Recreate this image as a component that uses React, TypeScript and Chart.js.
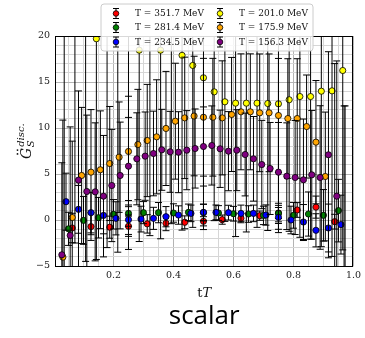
import React, { useEffect, useRef } from 'react';
import { Chart, registerables } from 'chart.js';
Chart.register(...registerables);

// ---- data ----
const seriesLabels = ['T = 351.7 MeV', 'T = 281.4 MeV', 'T = 234.5 MeV', 'T = 201.0 MeV', 'T = 175.9 MeV', 'T = 156.3 MeV'];
const seriesColors = ['#ff0000', '#008000', '#0000ff', '#ffff00', '#ffa500', '#800080'];

const redX = [0.0625, 0.125, 0.1875, 0.25, 0.3125, 0.375, 0.4375, 0.5, 0.5625, 0.625, 0.6875, 0.75, 0.8125, 0.875, 0.9375];
const redY = [-0.87, -0.72, -0.78, -0.68, -0.42, -0.36, -0.25, -0.14, 0.04, 0.2, 0.47, 0.76, 1.09, 1.4, -0.18];
const redErr = [1.6, 1.5, 1.2, 1.1, 1.0, 0.8, 0.7, 0.5, 0.5, 0.5, 0.5, 0.6, 0.8, 1.2, 0.8];

const greenX = [0.05, 0.1, 0.15, 0.2, 0.25, 0.3, 0.35, 0.4, 0.45, 0.5, 0.55, 0.6, 0.65, 0.7, 0.75, 0.8, 0.85, 0.9, 0.95];
const greenY = [-0.96, -0.04, 0.25, 0.62, 0.72, 0.8, 0.8, 0.76, 0.83, 0.8, 0.76, 0.68, 0.65, 0.5, 0.72, 0.51, 0.65, 0.51, 1.02];
const greenErr = [1.8, 2.6, 2.2, 1.6, 1.4, 1.2, 1.1, 1.0, 0.9, 0.9, 0.8, 0.8, 0.9, 1.0, 1.1, 1.4, 2.4, 2.8, 3.4];

const blueX = [0.0417, 0.0833, 0.125, 0.1667, 0.2083, 0.25, 0.2917, 0.3333, 0.375, 0.4167, 0.4583, 0.5, 0.5417, 0.5833, 0.625, 0.6667, 0.7083, 0.75, 0.7917, 0.8333, 0.875, 0.9167, 0.9583];
const blueY = [1.99, 1.16, 0.8, 0.5, 0.18, 0.03, 0.1, 0.18, 0.36, 0.54, 0.72, 0.83, 0.83, 0.8, 0.72, 0.72, 0.54, 0.29, 0.0, -0.22, -1.12, -0.87, -0.5];
const blueErr = [3.1, 2.6, 2.2, 2.0, 1.8, 1.6, 1.4, 1.2, 1.1, 1.0, 0.9, 0.9, 0.8, 0.8, 0.9, 0.9, 1.1, 1.3, 1.5, 1.9, 1.8, 2.6, 3.2];

const yellowX = [0.0357, 0.0714, 0.1071, 0.1429, 0.1786, 0.2143, 0.25, 0.2857, 0.3214, 0.3571, 0.3929, 0.4286, 0.4643, 0.5, 0.5357, 0.5714, 0.6071, 0.6429, 0.6786, 0.7143, 0.75, 0.7857, 0.8214, 0.8571, 0.8929, 0.9286, 0.9643];
const yellowY = [25, 23, 22, 19.7, 21, 20.5, 20.8, 18.46, 20.3, 18.46, 20.6, 17.9, 16.8, 15.46, 13.93, 12.85, 12.7, 12.7, 12.7, 12.66, 12.63, 13.07, 13.42, 13.42, 14.0, 14.04, 16.25];
const yellowErr = [32, 25.5, 26.5, 24, 24, 24, 24, 20.8, 22, 20.5, 21, 19, 17.6, 16.5, 14, 13, 14.5, 14, 13.5, 13.8, 14, 14.3, 15.3, 15.5, 16.9, 18, 19.5];

const orangeX = [0.03125, 0.0625, 0.09375, 0.125, 0.15625, 0.1875, 0.21875, 0.25, 0.28125, 0.3125, 0.34375, 0.375, 0.40625, 0.4375, 0.46875, 0.5, 0.53125, 0.5625, 0.59375, 0.625, 0.65625, 0.6875, 0.71875, 0.75, 0.78125, 0.8125, 0.84375, 0.875, 0.90625, 0.9375, 0.96875];
const orangeY = [-4.04, 0.27, 4.84, 5.2, 5.46, 6.14, 6.83, 7.45, 8.2, 8.64, 9.04, 9.95, 10.74, 11.1, 11.3, 11.17, 11.17, 11.1, 11.47, 11.76, 11.76, 11.65, 11.65, 11.36, 11.03, 11.03, 10.16, 8.46, 4.73, -6.0, -8.0];
const orangeErr = [14.9, 8.3, 7.4, 6.8, 6.4, 6.2, 6.0, 6.0, 6.0, 6.1, 6.2, 6.2, 6.3, 6.6, 6.5, 6.4, 6.4, 6.2, 6.2, 6.3, 6.3, 6.4, 6.4, 6.2, 6.5, 6.5, 5.6, 6.7, 7.0, 23.0, 20.4];

const purpleX = [0.0278, 0.0556, 0.0833, 0.1111, 0.1389, 0.1667, 0.1944, 0.2222, 0.25, 0.2778, 0.3056, 0.3333, 0.3611, 0.3889, 0.4167, 0.4444, 0.4722, 0.5, 0.5278, 0.5556, 0.5833, 0.6111, 0.6389, 0.6667, 0.6944, 0.7222, 0.75, 0.7778, 0.8056, 0.8333, 0.8611, 0.8889, 0.9167, 0.9444, 0.9722];
const purpleY = [-3.78, -1.68, 4.33, 3.1, 3.06, 2.59, 3.75, 4.84, 5.85, 6.65, 6.94, 7.23, 7.63, 7.41, 7.37, 7.59, 7.77, 7.99, 8.1, 7.74, 7.48, 7.59, 7.12, 6.65, 6.03, 5.6, 5.2, 4.76, 4.62, 4.37, 4.91, 4.62, 7.09, 2.59, -7.0];
const purpleErr = [10.0, 11.8, 9.7, 8.3, 7.5, 6.6, 6.1, 5.8, 5.3, 5.0, 4.8, 4.6, 4.4, 4.4, 4.4, 4.3, 4.3, 4.3, 4.3, 4.2, 4.3, 4.4, 4.5, 4.6, 4.8, 5.0, 5.4, 5.8, 6.2, 6.6, 7.0, 7.8, 11.2, 14.7, 19.4];

const xTickValues = [0.05, 0.1, 0.15, 0.2, 0.25, 0.3, 0.35, 0.4, 0.45, 0.5, 0.55, 0.6, 0.65, 0.7, 0.75, 0.8, 0.85, 0.9, 0.95, 1.0];
const xMajorValues = [0.2, 0.4, 0.6, 0.8, 1.0];
const xMajorLabels = ['0.2', '0.4', '0.6', '0.8', '1.0'];
const yTickValues = [-5, -4, -3, -2, -1, 0, 1, 2, 3, 4, 5, 6, 7, 8, 9, 10, 11, 12, 13, 14, 15, 16, 17, 18, 19, 20];
const yMajorValues = [-5, 0, 5, 10, 15, 20];
const yMajorLabels = ['\u22125', '0', '5', '10', '15', '20'];

const xTitleUpright = 't';
const xTitleItalic = 'T';
const yTitleMain = 'G';
const yTitleSup = 'disc.';
const yTitleSub = 'S';
const captionText = 'scalar';

const X_MIN = 0.005, X_MAX = 1.0, Y_MIN = -5, Y_MAX = 20;

const SERIF = '"DejaVu Serif"';

function findIdx(arr: number[], v: number) {
  for (let i = 0; i < arr.length; i++) if (Math.abs(arr[i] - v) < 1e-6) return i;
  return -1;
}

const errorBarPlugin = {
  id: 'errbars',
  beforeDatasetDraw(chart: any, args: any) {
    const ds = chart.data.datasets[args.index];
    const errs: number[] = ds.errors;
    if (!errs) return;
    const { ctx, chartArea, scales } = chart;
    ctx.save();
    ctx.beginPath();
    ctx.rect(chartArea.left, chartArea.top, chartArea.right - chartArea.left, chartArea.bottom - chartArea.top);
    ctx.clip();
    ctx.strokeStyle = '#000';
    ctx.lineWidth = 1;
    ds.data.forEach((p: any, i: number) => {
      const x = scales.x.getPixelForValue(p.x);
      const y1 = scales.y.getPixelForValue(p.y + errs[i]);
      const y2 = scales.y.getPixelForValue(p.y - errs[i]);
      ctx.beginPath();
      ctx.moveTo(x, y1); ctx.lineTo(x, y2);
      ctx.moveTo(x - 3.5, y1); ctx.lineTo(x + 3.5, y1);
      ctx.moveTo(x - 3.5, y2); ctx.lineTo(x + 3.5, y2);
      ctx.stroke();
    });
    ctx.restore();
  },
};

const decorPlugin = {
  id: 'decor',
  afterDatasetsDraw(chart: any) {
    const { ctx, chartArea } = chart;
    ctx.save();
    ctx.strokeStyle = '#000';
    ctx.lineWidth = 1;
    ctx.strokeRect(Math.round(chartArea.left) + 0.5, Math.round(chartArea.top) + 0.5,
      Math.round(chartArea.right - chartArea.left) - 1, Math.round(chartArea.bottom - chartArea.top));
    ctx.restore();
  },
  afterDraw(chart: any) {
    const { ctx, chartArea } = chart;
    ctx.save();
    // legend
    const bx = 101, by = 4, bw = 212, bh = 47, r = 3;
    ctx.beginPath();
    ctx.moveTo(bx + r, by);
    ctx.arcTo(bx + bw, by, bx + bw, by + bh, r);
    ctx.arcTo(bx + bw, by + bh, bx, by + bh, r);
    ctx.arcTo(bx, by + bh, bx, by, r);
    ctx.arcTo(bx, by, bx + bw, by, r);
    ctx.closePath();
    ctx.fillStyle = 'rgba(255,255,255,0.85)';
    ctx.fill();
    ctx.strokeStyle = '#cccccc';
    ctx.lineWidth = 1;
    ctx.stroke();
    const colX = [116, 220];
    const rowY = [13.5, 27.5, 42];
    ctx.font = '9px ' + SERIF;
    ctx.textBaseline = 'middle';
    ctx.textAlign = 'left';
    for (let k = 0; k < 6; k++) {
      const cx = colX[Math.floor(k / 3)];
      const cy = rowY[k % 3];
      ctx.strokeStyle = '#000';
      ctx.lineWidth = 1;
      ctx.beginPath();
      ctx.moveTo(cx, cy - 5); ctx.lineTo(cx, cy + 5);
      ctx.moveTo(cx - 3, cy - 5); ctx.lineTo(cx + 3, cy - 5);
      ctx.moveTo(cx - 3, cy + 5); ctx.lineTo(cx + 3, cy + 5);
      ctx.stroke();
      ctx.beginPath();
      ctx.arc(cx, cy, 2.8, 0, Math.PI * 2);
      ctx.fillStyle = seriesColors[k];
      ctx.fill();
      ctx.lineWidth = 0.8;
      ctx.stroke();
      ctx.fillStyle = '#111';
      ctx.fillText(seriesLabels[k], cx + 19, cy + 0.5);
    }
    // x title
    const midX = (chartArea.left + chartArea.right) / 2;
    ctx.textBaseline = 'alphabetic';
    ctx.font = '13px ' + SERIF;
    const w1 = ctx.measureText(xTitleUpright).width;
    ctx.font = 'italic 13px ' + SERIF;
    const w2 = ctx.measureText(xTitleItalic).width;
    const sx = midX - (w1 + w2) / 2;
    ctx.fillStyle = '#111';
    ctx.font = '13px ' + SERIF;
    ctx.fillText(xTitleUpright, sx, 297);
    ctx.font = 'italic 13px ' + SERIF;
    ctx.fillText(xTitleItalic, sx + w1, 297);
    // y title (rotated)
    ctx.save();
    ctx.translate(31, 159);
    ctx.rotate(-Math.PI / 2);
    ctx.font = 'italic 14px ' + SERIF;
    const gw = ctx.measureText(yTitleMain).width;
    ctx.fillText(yTitleMain, 0, 0);
    ctx.beginPath();
    ctx.arc(gw * 0.45, -13.5, 0.9, 0, Math.PI * 2);
    ctx.arc(gw * 0.8, -13.5, 0.9, 0, Math.PI * 2);
    ctx.fill();
    ctx.font = 'italic 10px ' + SERIF;
    ctx.fillText(yTitleSup, gw + 1, -7);
    ctx.fillText(yTitleSub, gw + 0.5, 2.5);
    ctx.restore();
    // caption
    ctx.font = '26px "Open Sans"';
    ctx.textAlign = 'center';
    ctx.fillStyle = '#000';
    ctx.fillText(captionText, midX, 324);
    ctx.restore();
  },
};

export default function App() {
  const ref = useRef<HTMLCanvasElement | null>(null);
  useEffect(() => {
    document.body.style.margin = '0';
    document.body.style.overflow = 'hidden';
    const canvas = ref.current!;
    const mk = (xs: number[], ys: number[], es: number[], k: number, order: number) => ({
      label: seriesLabels[k],
      data: xs.map((x, i) => ({ x, y: ys[i] })),
      errors: es,
      backgroundColor: seriesColors[k],
      borderColor: '#000',
      pointBackgroundColor: seriesColors[k],
      pointBorderColor: '#000',
      pointBorderWidth: 0.8,
      pointRadius: 3.1,
      showLine: false,
      order,
    });
    const majorGrid = '#b4b4b4';
    const minorGrid = '#d6d6d6';
    const chart = new Chart(canvas, {
      type: 'scatter',
      data: {
        datasets: [
          mk(redX, redY, redErr, 0, 6),
          mk(greenX, greenY, greenErr, 1, 5),
          mk(blueX, blueY, blueErr, 2, 4),
          mk(yellowX, yellowY, yellowErr, 3, 3),
          mk(orangeX, orangeY, orangeErr, 4, 2),
          mk(purpleX, purpleY, purpleErr, 5, 1),
        ] as any,
      },
      options: {
        animation: false,
        responsive: false,
        devicePixelRatio: 1,
        layout: { padding: { left: 0, right: 9, top: 36, bottom: 52 } },
        plugins: { legend: { display: false }, tooltip: { enabled: false }, title: { display: false } },
        scales: {
          x: {
            type: 'linear',
            min: X_MIN,
            max: X_MAX,
            afterBuildTicks: (s: any) => { s.ticks = xTickValues.map((v) => ({ value: v })); },
            afterFit: (s: any) => { s.height = 20; },
            border: { display: false },
            grid: {
              drawTicks: false,
              color: (c: any) => (c.tick && findIdx(xMajorValues, c.tick.value) >= 0 ? majorGrid : minorGrid),
              lineWidth: 1,
            },
            ticks: {
              autoSkip: false,
              maxRotation: 0,
              padding: 4,
              color: '#222',
              font: { family: 'DejaVu Serif', size: 9.5 },
              callback: (v: any) => { const i = findIdx(xMajorValues, Number(v)); return i >= 0 ? xMajorLabels[i] : ''; },
            },
          },
          y: {
            type: 'linear',
            min: Y_MIN,
            max: Y_MAX,
            afterBuildTicks: (s: any) => { s.ticks = yTickValues.map((v) => ({ value: v })); },
            afterFit: (s: any) => { s.width = 55; },
            border: { display: false },
            grid: {
              drawTicks: false,
              color: (c: any) => (c.tick && findIdx(yMajorValues, c.tick.value) >= 0 ? majorGrid : minorGrid),
              lineWidth: 1,
            },
            ticks: {
              autoSkip: false,
              padding: 5,
              color: '#222',
              font: { family: 'DejaVu Serif', size: 9.5 },
              callback: (v: any) => { const i = findIdx(yMajorValues, Number(v)); return i >= 0 ? yMajorLabels[i] : ''; },
            },
          },
        },
      } as any,
      plugins: [errorBarPlugin, decorPlugin],
    });
    return () => chart.destroy();
  }, []);
  return <canvas ref={ref} width={365} height={338} style={{ display: 'block', width: 365, height: 338 }} />;
}
